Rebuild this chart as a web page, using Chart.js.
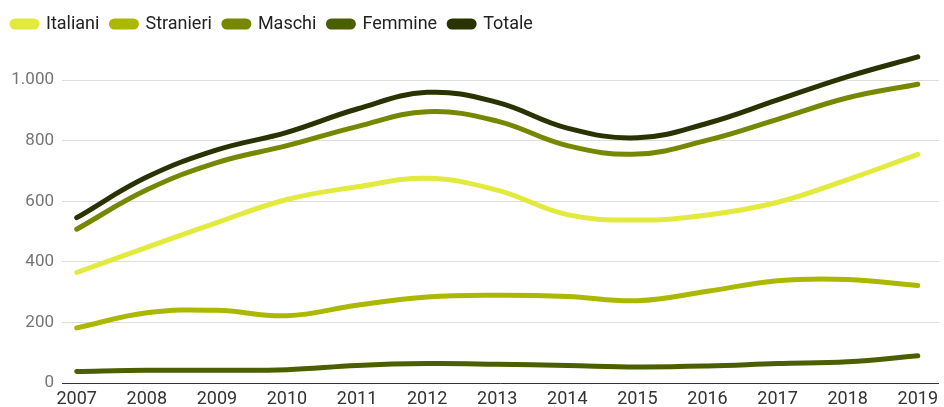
<!DOCTYPE html>
<html>
<head>
<meta charset="utf-8">
<script src="https://cdn.jsdelivr.net/npm/chart.js@4"></script>
<style>
  html, body { margin: 0; padding: 0; background: #fff; }
  #wrap { width: 944px; height: 407px; }
</style>
</head>
<body>
<div id="wrap"><canvas id="chart"></canvas></div>
<script>
const years = [2007, 2008, 2009, 2010, 2011, 2012, 2013, 2014, 2015, 2016, 2017, 2018, 2019];
const italiani  = [365, 448, 530, 606, 648, 676, 637, 556, 538, 555, 597, 672, 755];
const stranieri = [182, 232, 240, 222, 257, 284, 290, 286, 272, 303, 338, 342, 322];
const maschi    = [508, 638, 728, 784, 847, 896, 865, 784, 756, 802, 871, 942, 987];
const femmine   = [38, 42, 42, 44, 58, 64, 62, 58, 53, 56, 64, 70, 90];
const totale    = [546, 680, 770, 828, 905, 960, 927, 842, 810, 858, 935, 1012, 1077];
const yTicks = [0, 200, 400, 600, 800, 1000];

const seriesNames = ['Italiani', 'Stranieri', 'Maschi', 'Femmine', 'Totale'];
const seriesData = [italiani, stranieri, maschi, femmine, totale];
const seriesColors = ['#e2ea3e', '#aab900', '#758800', '#4b5f00', '#283300'];

const fmt = new Intl.NumberFormat('it-IT');

const ctx = document.getElementById('chart').getContext('2d');

new Chart(ctx, {
    type: 'line',
    data: {
        datasets: seriesNames.map((name, i) => ({
            label: name,
            data: years.map((y, j) => ({ x: y, y: seriesData[i][j] })),
            borderColor: seriesColors[i],
            backgroundColor: seriesColors[i],
            borderWidth: 5,
            borderCapStyle: 'round',
            pointRadius: 0,
            pointHoverRadius: 0,
            tension: 0.4,
            fill: false
        }))
    },
    options: {
        responsive: true,
        maintainAspectRatio: false,
        animation: false,
        layout: { padding: { left: 0, right: 0, top: 3, bottom: 0 } },
        plugins: {
            legend: {
                position: 'top',
                align: 'start',
                labels: {
                    boxWidth: 25,
                    boxHeight: 6,
                    useBorderRadius: true,
                    borderRadius: 3,
                    padding: 12,
                    color: '#222222',
                    font: { family: 'Roboto', size: 18 }
                }
            },
            tooltip: { enabled: false }
        },
        scales: {
            x: {
                type: 'linear',
                min: 2006.79,
                max: 2019.3,
                afterBuildTicks: scale => {
                    scale.ticks = years.map(v => ({ value: v }));
                },
                afterFit: scale => { scale.height = 24; },
                ticks: {
                    color: '#333333',
                    padding: 6,
                    maxRotation: 0,
                    autoSkip: false,
                    font: { family: 'Roboto', size: 18 },
                    callback: value => String(value)
                },
                grid: { display: false, drawTicks: false },
                border: { display: true, color: '#333333', width: 1 }
            },
            y: {
                min: 0,
                max: 1123,
                afterBuildTicks: scale => {
                    scale.ticks = yTicks.map(v => ({ value: v }));
                },
                afterFit: scale => { scale.width = 62; },
                ticks: {
                    color: '#757575',
                    padding: 8,
                    font: { family: 'Roboto', size: 17 },
                    callback: value => fmt.format(value)
                },
                grid: { color: '#dddddd', lineWidth: 1, drawTicks: false },
                border: { display: false }
            }
        }
    }
});
</script>
</body>
</html>
